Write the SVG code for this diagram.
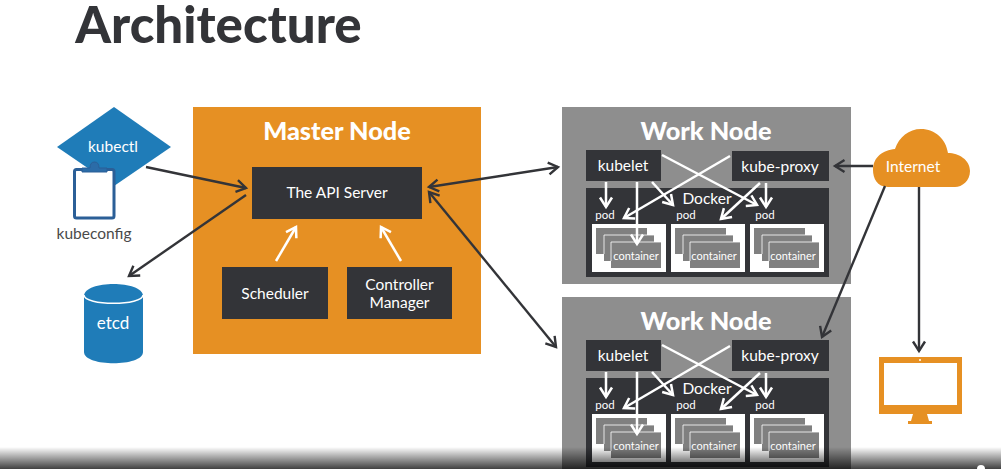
<svg xmlns="http://www.w3.org/2000/svg" width="1001" height="469" viewBox="0 0 1001 469">
<style>
text{font-family:Lato,"Open Sans","Liberation Sans",sans-serif;fill:#fff;text-anchor:middle}
.d{fill:#333438}.o{fill:#e69023}.b{fill:#1f7cb8}.g{fill:#8e8e8e}
.h{font-size:25.300px;font-weight:900}.m{font-size:15.500px}.n{font-size:17px}.p{font-size:11.500px}.t{font-size:11px}
.a{fill:none;stroke:#333438;stroke-width:2.400;marker-end:url(#ah)}
.w{fill:none;stroke:#fff;stroke-width:2.500;marker-end:url(#wh)}
.a2{fill:none;stroke:#333438;stroke-width:2.400;marker-end:url(#ah);marker-start:url(#as)}
</style>
<defs>
<marker id="ah" markerUnits="userSpaceOnUse" markerWidth="16" markerHeight="16" refX="11" refY="8" orient="auto"><path d="M1.500 2L11 8L1.500 14" fill="none" stroke="#333438" stroke-width="2.400"/></marker>
<marker id="as" markerUnits="userSpaceOnUse" markerWidth="16" markerHeight="16" refX="5" refY="8" orient="auto"><path d="M14.500 2L5 8L14.500 14" fill="none" stroke="#333438" stroke-width="2.400"/></marker>
<marker id="wh" markerUnits="userSpaceOnUse" markerWidth="16" markerHeight="16" refX="11" refY="8" orient="auto"><path d="M1.500 2L11 8L1.500 14" fill="none" stroke="#fff" stroke-width="2.500"/></marker>
<linearGradient id="fade" x1="0" y1="0" x2="0" y2="1"><stop offset="0" stop-color="#000" stop-opacity="0"/><stop offset="1" stop-color="#000" stop-opacity=".75"/></linearGradient>
</defs>
<rect width="1001" height="469" fill="#fff"/>
<text x="218.500" y="43" style="font-size:51px;font-weight:900;fill:#333438">Architecture</text>

<g id="kubectl">
<path class="b" d="M114 107L171 147L114 186L57 147Z"/>
<text class="m" x="113" y="152">kubectl</text>
</g>
<g id="kubeconfig">
<rect x="74.500" y="169.500" width="39.500" height="48.500" rx="2" fill="#fff" stroke="#2b5f97" stroke-width="3"/>
<path d="M82 172V168H90Q90 162 94.500 162Q99 162 99 168H107V172Z" fill="#2b6ca8" stroke="#2b5f97"/>
<text class="m" x="94" y="239" style="fill:#4a4a4a">kubeconfig</text>
</g>
<g id="etcd">
<path class="b" d="M84 296C84 280 143 280 143 296V352C143 367 84 367 84 352Z"/>
<path d="M84 295C84 306 143 306 143 295" fill="none" stroke="#fff" stroke-width="1.500"/>
<text class="n" x="113" y="329">etcd</text>
</g>
<g id="master-node">
<rect class="o" x="193" y="107" width="288" height="247"/>
<text class="h" x="337" y="140">Master Node</text>
</g>
<g id="api-server">
<rect class="d" x="252" y="167" width="170" height="52"/>
<text class="m" x="337" y="198">The API Server</text>
</g>
<g id="scheduler">
<rect class="d" x="222" y="267" width="106" height="52"/>
<text class="m" x="275" y="299">Scheduler</text>
</g>
<g id="controller-manager">
<rect class="d" x="347" y="267" width="105" height="52"/>
<text class="m" x="399.500" y="290">Controller</text>
<text class="m" x="399.500" y="308">Manager</text>
</g>

<g id="work-node-1">
<rect class="g" x="562" y="107" width="289" height="177"/>
<text class="h" x="706" y="140">Work Node</text>
<rect class="d" x="586" y="150" width="75" height="31"/>
<text class="m" x="623" y="171">kubelet</text>
<rect class="d" x="732" y="151" width="97" height="30"/>
<text class="m" x="780" y="172">kube-proxy</text>
<rect class="d" x="586" y="188" width="243" height="89"/>
<text class="m" x="707" y="204">Docker</text>
<text class="p" x="605" y="219">pod</text><text class="p" x="686" y="219">pod</text><text class="p" x="765" y="219">pod</text>
<rect x="592" y="224" width="74" height="48" fill="#fff"/><rect x="671" y="224" width="74" height="48" fill="#fff"/><rect x="750" y="224" width="74" height="48" fill="#fff"/>
<path fill="#808080" d="M596 228H647V235H654V242H661V268H611V261H604V254H596Z"/>
<path fill="#808080" d="M675 228H726V235H733V242H740V268H690V261H683V254H675Z"/>
<path fill="#808080" d="M754 228H805V235H812V242H819V268H769V261H762V254H754Z"/>
<path d="M604 235H654M604 235V254M611 242H661M611 242V261M683 235H733M683 235V254M690 242H740M690 242V261M762 235H812M762 235V254M769 242H819M769 242V261" fill="none" stroke="#fff" stroke-width=".8"/>
<text class="t" x="636" y="260">container</text><text class="t" x="714" y="260">container</text><text class="t" x="793" y="260">container</text>
</g>
<g id="work-node-2" transform="translate(0 190)">
<rect class="g" x="562" y="107" width="289" height="177"/>
<text class="h" x="706" y="140">Work Node</text>
<rect class="d" x="586" y="150" width="75" height="31"/>
<text class="m" x="623" y="171">kubelet</text>
<rect class="d" x="732" y="150" width="97" height="31"/>
<text class="m" x="780" y="171">kube-proxy</text>
<rect class="d" x="586" y="188" width="243" height="89"/>
<text class="m" x="707" y="204">Docker</text>
<text class="p" x="605" y="219">pod</text><text class="p" x="686" y="219">pod</text><text class="p" x="765" y="219">pod</text>
<rect x="592" y="224" width="74" height="48" fill="#fff"/><rect x="671" y="224" width="74" height="48" fill="#fff"/><rect x="750" y="224" width="74" height="48" fill="#fff"/>
<path fill="#808080" d="M596 228H647V235H654V242H661V268H611V261H604V254H596Z"/>
<path fill="#808080" d="M675 228H726V235H733V242H740V268H690V261H683V254H675Z"/>
<path fill="#808080" d="M754 228H805V235H812V242H819V268H769V261H762V254H754Z"/>
<path d="M604 235H654M604 235V254M611 242H661M611 242V261M683 235H733M683 235V254M690 242H740M690 242V261M762 235H812M762 235V254M769 242H819M769 242V261" fill="none" stroke="#fff" stroke-width=".8"/>
<text class="t" x="636" y="260">container</text><text class="t" x="714" y="260">container</text><text class="t" x="793" y="260">container</text>
</g>

<g id="internet">
<path class="o" d="M888 187C877 187 873 178 873 170C873 157 883 150 895 149C899 137 909 129 921 129C935 129 946 139 948 153C959 153 970 160 970 171C970 181 962 187 955 187Z"/>
<text class="m" x="913" y="172">Internet</text>
</g>
<g id="monitor">
<path class="o" d="M879 357H962V414H927L929 421H932V424H908V421H911L913 414H879Z"/>
<rect x="884" y="363" width="73" height="42" fill="#fff"/>
<circle cx="920" cy="360" r="1" fill="#fff"/>
</g>

<g id="connectors">
<path class="a" d="M146 167L246 188"/>
<path class="a" d="M246 195L129 276"/>
<path class="a2" d="M429 187L558 167"/>
<path class="a2" d="M429 192L556 347"/>
<path class="w" d="M276 261L296 227"/>
<path class="w" d="M401 261L381 227"/>
<path class="a" d="M873 166L835 166"/>
<path class="a" d="M885 186L822 337"/>
<path class="a" d="M919 187V351"/>
<g id="wn1-arrows">
<path class="w" d="M606 182V207"/>
<path class="w" d="M637 182V244"/>
<path class="w" d="M652 182L673 205"/>
<path class="w" d="M662 155L757 205"/>
<path class="w" d="M730 156L624 218"/>
<path class="w" d="M760 183L721 219"/>
<path class="w" d="M766 183V207"/>
</g>
<g id="wn2-arrows" transform="translate(0 190)">
<path class="w" d="M606 182V207"/>
<path class="w" d="M637 182V244"/>
<path class="w" d="M652 182L673 205"/>
<path class="w" d="M662 155L757 205"/>
<path class="w" d="M730 156L624 218"/>
<path class="w" d="M760 183L721 219"/>
<path class="w" d="M766 183V207"/>
</g>
</g>
<rect x="0" y="447" width="1001" height="22" fill="url(#fade)"/>
<circle cx="981" cy="469" r="4" fill="#fff"/>
</svg>
